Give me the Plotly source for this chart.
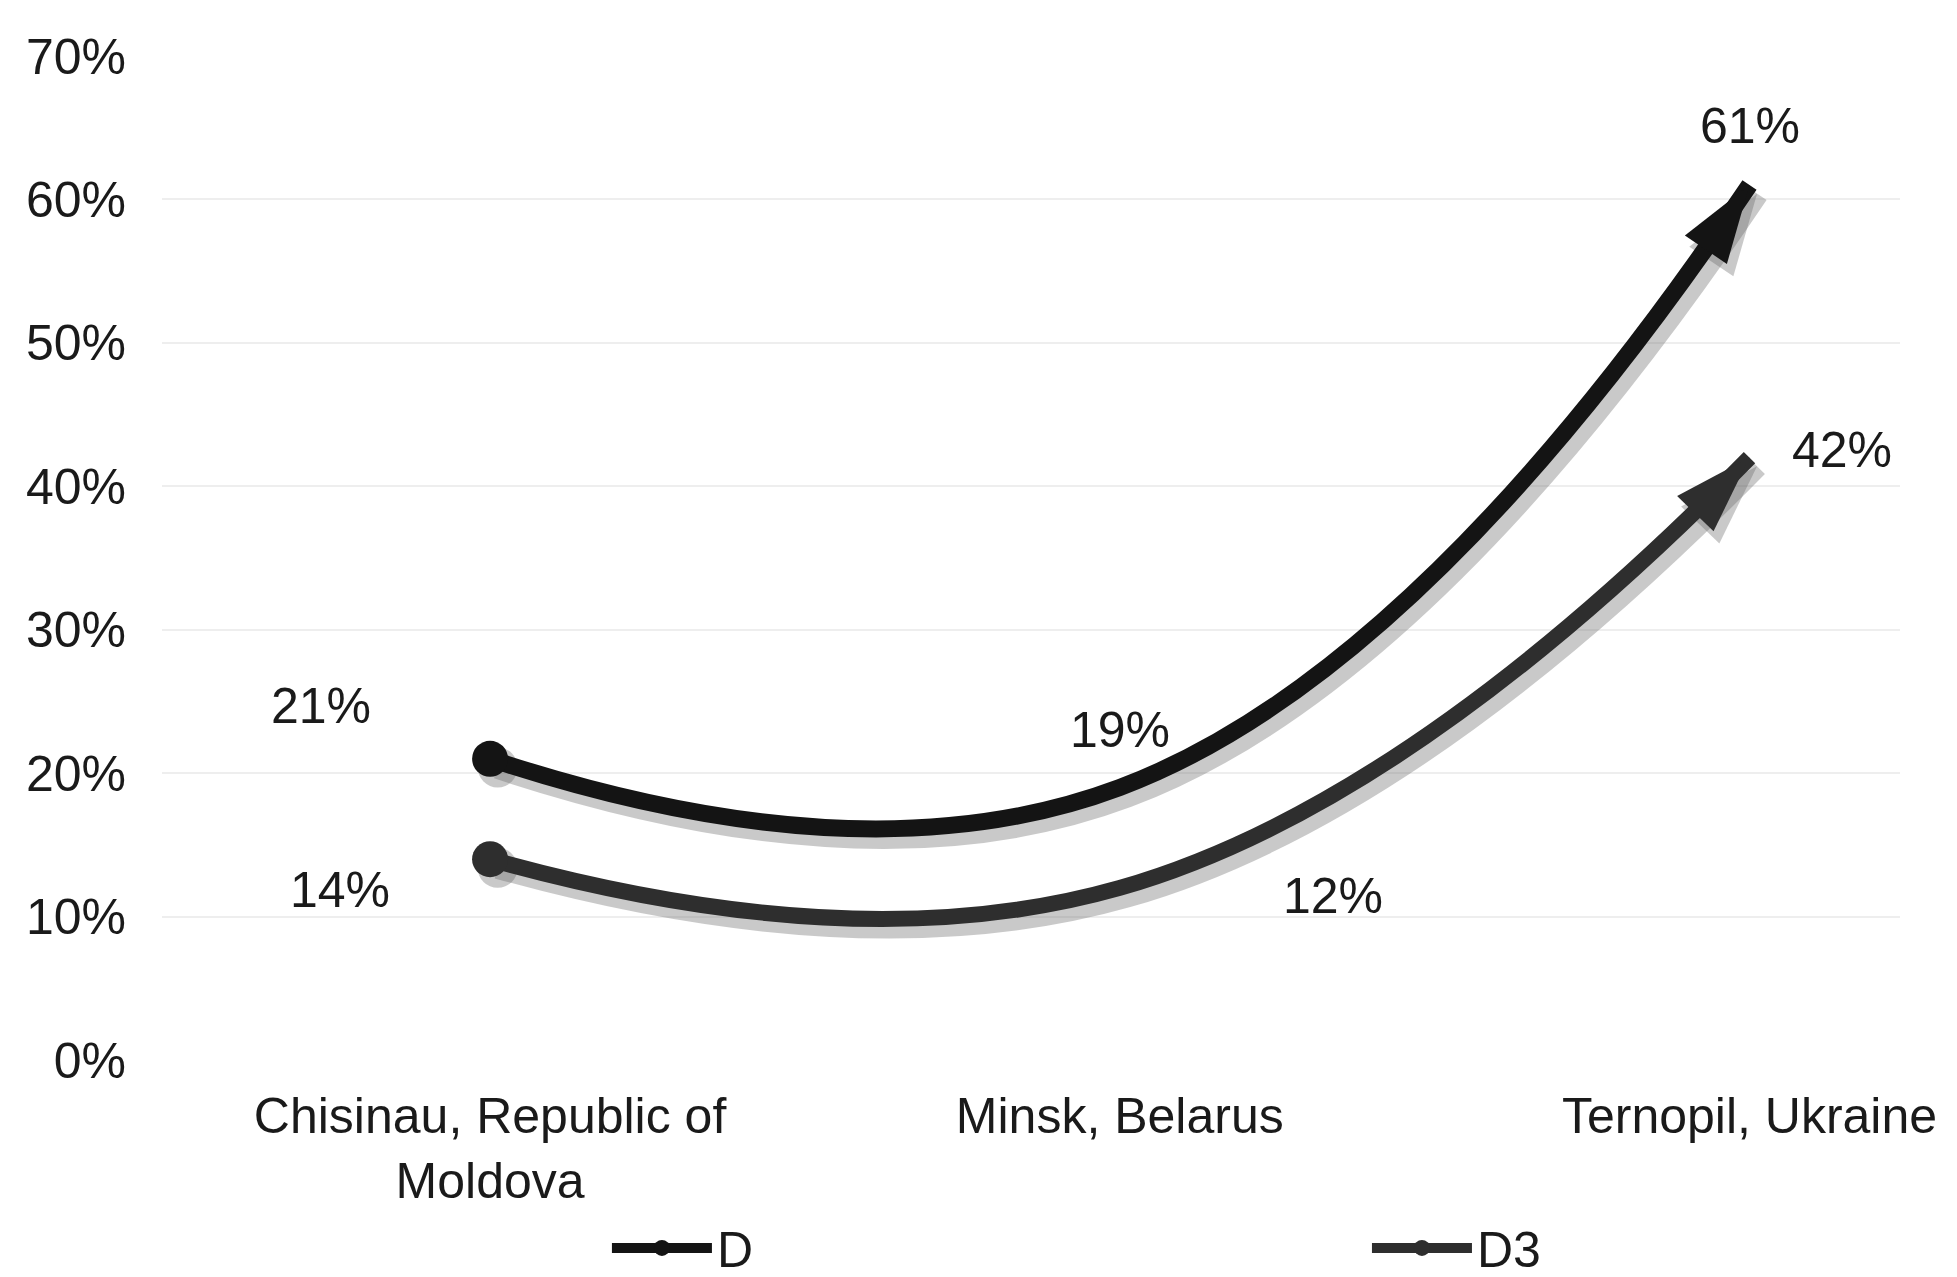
import plotly.graph_objects as go

# ---- data ----
categories = ["Chisinau, Republic of<br>Moldova", "Minsk, Belarus", "Ternopil, Ukraine"]
cat_pos = [0, 1, 2]
series_names = ["D", "D3"]
d_values = [21, 19, 61]
d3_values = [14, 12, 42]
y_ticks = [0, 10, 20, 30, 40, 50, 60, 70]
y_ticktext = [f"{v}%" for v in y_ticks]

FONT = "Liberation Sans, Arial, sans-serif"
TXT = "#1a1a1a"

styles = {
    "D": dict(color="#141414", width=17, angle=34, legend="legend"),
    "D3": dict(color="#2e2e2e", width=16, angle=44, legend="legend2"),
}

fig = go.Figure()

# soft drop shadows
for name, vals in zip(series_names, [d_values, d3_values]):
    st = styles[name]
    fig.add_trace(go.Scatter(
        x=[p + 0.012 for p in cat_pos], y=[v - 0.6 for v in vals],
        mode="lines+markers",
        line=dict(color="rgba(100,100,100,0.35)", width=st["width"] + 6, shape="spline", smoothing=1.3),
        marker=dict(symbol=["circle", "circle", "arrow"], size=[40, 0, 86],
                    angle=[0, 0, st["angle"]], color="rgba(100,100,100,0.35)",
                    opacity=1, line=dict(width=0)),
        showlegend=False, hoverinfo="skip",
    ))

for name, vals in zip(series_names, [d_values, d3_values]):
    st = styles[name]
    fig.add_trace(go.Scatter(
        x=cat_pos, y=vals, name=name, legend=st["legend"],
        mode="lines+markers",
        line=dict(color=st["color"], width=st["width"], shape="spline", smoothing=1.3),
        marker=dict(symbol=["circle", "circle", "arrow"], size=[36, 0, 82],
                    angle=[0, 0, st["angle"]], color=st["color"],
                    opacity=1, line=dict(width=0)),
    ))

# data labels (offsets in pixels from each point)
label_shift = {
    "D": [(-169, 53), (0, 57), (0, 59)],
    "D3": [(-150, -31), (213, -8), (92, 8)],
}
for name, vals in zip(series_names, [d_values, d3_values]):
    for p, v, (dx, dy) in zip(cat_pos, vals, label_shift[name]):
        fig.add_annotation(x=p, y=v, text=f"{v}%", showarrow=False,
                           xshift=dx, yshift=dy,
                           font=dict(family=FONT, size=50, color=TXT))

legend_common = dict(orientation="h", yanchor="bottom", y=-0.226, xanchor="left",
                     itemwidth=100,
                     font=dict(family=FONT, size=50, color=TXT),
                     bgcolor="rgba(0,0,0,0)", borderwidth=0)

# page body has an 8px default margin, so the figure is sized/offset to compensate
fig.update_layout(
    template="none",
    width=1949, height=1269,
    margin=dict(l=154, r=57, t=48, b=217, autoexpand=False),
    paper_bgcolor="white", plot_bgcolor="white",
    font=dict(family=FONT, size=50, color=TXT),
    showlegend=True,
    legend=dict(x=0.256, **legend_common),
    legend2=dict(x=0.6933, **legend_common),
)
fig.update_xaxes(range=[-0.521, 2.239], tickvals=cat_pos, ticktext=categories,
                 showgrid=False, zeroline=False, showline=False, ticks="",
                 automargin=False,
                 ticklabelstandoff=22, tickfont=dict(family=FONT, size=50, color=TXT))
fig.update_yaxes(range=[0, 70], tickvals=y_ticks, ticktext=y_ticktext,
                 showgrid=True, gridcolor="#eeeeee", gridwidth=2,
                 zeroline=False, showline=False, ticks="",
                 automargin=False,
                 ticklabelstandoff=35, tickfont=dict(family=FONT, size=50, color=TXT))

fig.write_html("out.html")
